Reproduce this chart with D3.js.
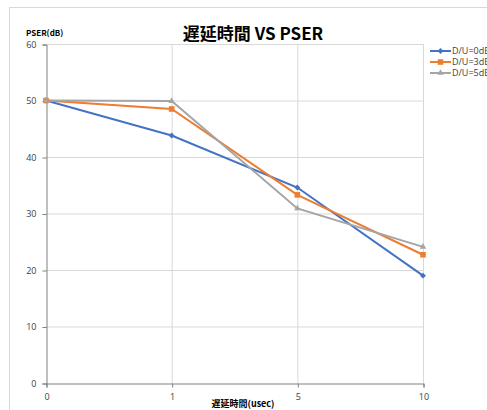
<!DOCTYPE html>
<html>
<head>
<meta charset="utf-8">
<script src="https://cdn.jsdelivr.net/npm/d3@7"></script>
<style>
  body { margin: 0; background: #fff; overflow: hidden; }
  svg { display: block; font-family: "Noto Sans CJK JP", "Noto Sans", sans-serif; }
</style>
</head>
<body>
<div id="container"></div>
<script>
const categories = ['0', '1', '5', '10'];
const yTicks = [0, 10, 20, 30, 40, 50, 60];
const seriesNames = ['D/U=0dB', 'D/U=3dB', 'D/U=5dB'];
const du0 = [50, 43.8, 34.6, 19.0];
const du3 = [50, 48.5, 33.3, 22.7];
const du5 = [50, 49.9, 30.9, 24.1];

const width = 487;
const height = 410;
const colors = ['#4472C4', '#ED7D31', '#A5A5A5'];
const symbols = [d3.symbolDiamond2, d3.symbolSquare2, d3.symbolTriangle2];
const symSizes = [22, 40, 30];
const series = [du0, du3, du5];

const svg = d3.select('#container').append('svg')
  .attr('width', width).attr('height', height);

// chart frame
svg.append('rect')
  .attr('x', 9.5).attr('y', 7.5)
  .attr('width', 600).attr('height', 600)
  .attr('fill', '#fff').attr('stroke', '#d9d9d9');

const plotL = 46, plotR = 423, plotT = 44, plotB = 383;

const x = d3.scalePoint().domain(categories).range([plotL, plotR]).padding(0);
const y = d3.scaleLinear().domain([0, 60]).range([plotB, plotT]);

// gridlines
svg.append('g').selectAll('line')
  .data(yTicks.filter(d => d > 0))
  .enter().append('line')
  .attr('x1', plotL).attr('x2', plotR)
  .attr('y1', d => y(d) + 0.5).attr('y2', d => y(d) + 0.5)
  .attr('stroke', '#d9d9d9');

svg.append('g').selectAll('line')
  .data(categories.slice(1))
  .enter().append('line')
  .attr('x1', d => x(d) + 0.5).attr('x2', d => x(d) + 0.5)
  .attr('y1', plotT).attr('y2', plotB)
  .attr('stroke', '#d9d9d9');

// axes
const yAxis = svg.append('g')
  .attr('transform', `translate(${plotL + 0.5},0.5)`)
  .call(d3.axisLeft(y).tickValues(yTicks).tickSize(4).tickPadding(6));
const xAxis = svg.append('g')
  .attr('transform', `translate(0.5,${plotB + 0.5})`)
  .call(d3.axisBottom(x).tickSize(4).tickPadding(6));

[yAxis, xAxis].forEach(g => {
  g.select('.domain').attr('stroke', '#808080');
  g.selectAll('.tick line').attr('stroke', '#808080');
  g.selectAll('.tick text').attr('fill', '#404040')
    .style('font-size', '9px').style('font-family', '"Open Sans", "Noto Sans", sans-serif');
});

// lines + markers
const line = d3.line().x((d, i) => x(categories[i])).y(d => y(d));

series.forEach((s, k) => {
  svg.append('path')
    .datum(s)
    .attr('d', line)
    .attr('fill', 'none')
    .attr('stroke', colors[k])
    .attr('stroke-width', 2);
});

series.forEach((s, k) => {
  svg.append('g').selectAll('path')
    .data(s)
    .enter().append('path')
    .attr('d', d3.symbol().type(symbols[k]).size(symSizes[k]))
    .attr('transform', (d, i) => `translate(${x(categories[i])},${y(d)})`)
    .attr('fill', colors[k]);
});

// title
svg.append('text')
  .attr('x', 253).attr('y', 40)
  .attr('text-anchor', 'middle')
  .style('font-size', '17px').style('font-weight', 'bold')
  .attr('fill', '#000')
  .text('遅延時間 VS PSER');

svg.append('text')
  .attr('x', 26).attr('y', 36)
  .style('font-size', '8px').style('font-weight', 'bold')
  .attr('fill', '#000')
  .text('PSER(dB)');

svg.append('text')
  .attr('x', 243).attr('y', 407)
  .attr('text-anchor', 'middle')
  .style('font-size', '9px').style('font-weight', 'bold')
  .attr('fill', '#000')
  .text('遅延時間(usec)');

// legend
const legend = svg.append('g').selectAll('g')
  .data(seriesNames)
  .enter().append('g')
  .attr('transform', (d, i) => `translate(430,${51 + i * 11})`);

legend.append('line')
  .attr('x1', 0).attr('x2', 21)
  .attr('stroke', (d, i) => colors[i]).attr('stroke-width', 2);
legend.append('path')
  .attr('d', (d, i) => d3.symbol().type(symbols[i]).size(symSizes[i])())
  .attr('transform', 'translate(10.5,0)')
  .attr('fill', (d, i) => colors[i]);
legend.append('text')
  .attr('x', 22).attr('dy', '0.35em')
  .style('font-size', '9px')
  .style('font-family', '"Open Sans", "Noto Sans", sans-serif')
  .attr('fill', '#404040')
  .text(d => d);
</script>
</body>
</html>
